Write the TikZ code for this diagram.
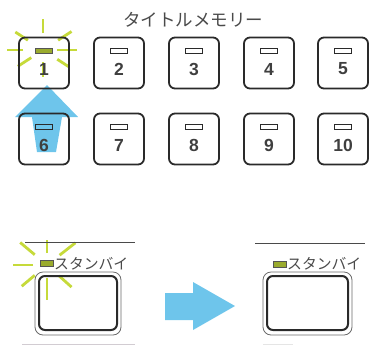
\documentclass[tikz,border=0pt]{standalone}
\usepackage{fontspec}
\usetikzlibrary{calc}
\setmainfont{Liberation Sans}
\newfontfamily\jp{Noto Sans CJK JP}
\definecolor{glow}{HTML}{C6DA3A}
\definecolor{ledon}{HTML}{9AAB2E}
\definecolor{arrowblue}{HTML}{6EC5EB}
\definecolor{ink}{HTML}{2A2A2A}
\definecolor{txt}{HTML}{4A4A4A}
\tikzset{
  keybtn/.style={draw=ink, line width=1.8pt, rounded corners=6pt, minimum width=50pt, minimum height=51pt, inner sep=0pt},
  ledoff/.style={draw=ink, line width=0.8pt, fill=none, minimum width=17pt, minimum height=5pt, inner sep=0pt},
  ledlit/.style={draw=ink!80, line width=0.8pt, fill=ledon, minimum width=13pt, minimum height=6pt, inner sep=0pt},
  numlabel/.style={font=\bfseries\fontsize{17.5pt}{17.5pt}\selectfont, text=ink!90, inner sep=0pt},
  ray/.style={draw=glow, line width=2.8pt},
  bluearrow/.style={fill=arrowblue, draw=none},
  outerbox/.style={draw=ink!70, line width=0.8pt, rounded corners=8pt},
  innerbox/.style={draw=ink, line width=2pt, rounded corners=6pt},
  rule/.style={draw=ink!85, line width=1pt},
  jptext/.style={font=\jp\fontsize{14.8pt}{14.8pt}\selectfont, text=txt, inner sep=0pt}
}
\begin{document}
\begin{tikzpicture}[x=1pt,y=-1pt]
\useasboundingbox (0,0) rectangle (369,346);

% title
\node[font=\jp\fontsize{17.5pt}{17.5pt}\selectfont, text=txt, inner sep=0pt] (title) at (193,20) {タイトルメモリー};

% glow rays around key 1
\coordinate (g1) at (43,50);
\foreach \a/\r/\R in {0/14/34, 33/18/34, 90/17/31, 147/18/33, 180/20/36, 213/14/30, 270/12/27, 327/17/31}
  \draw[ray] ($(g1)+(\a:\r pt)$) -- ($(g1)+(\a:\R pt)$);

% blue up arrow from 6 to 1
\path[bluearrow] (15,117) -- (47,85) -- (78,117) -- (62,117) -- (56,152) -- (37,152) -- (32,117) -- cycle;

% keys
\foreach \n/\x/\y in {1/44/63, 2/119/63, 3/194/63, 4/269/63, 5/343/63, 6/44/139, 7/119/139, 8/194/139, 9/269/139, 10/343/139} {
  \node[keybtn] (k\n) at (\x,\y) {};
  \node[numlabel] (n\n) at ($(k\n.center)+(0,6)$) {\n};
}
\foreach \n in {2,...,10}
  \node[ledoff] (l\n) at ($(k\n.center)+(0,-12.5)$) {};
\node[ledlit, minimum width=17pt, minimum height=5pt] (l1) at ($(k1.center)+(0,-12.5)$) {};

% ---- standby (left) ----
\coordinate (g2) at (47,265);
\foreach \a/\r/\R in {90/12/25, 140/16/35, 180/14/34, 220/16/33, 270/13/35, 318/16/33, 38/16/36}
  \draw[ray] ($(g2)+(\a:\r pt)$) -- ($(g2)+(\a:\R pt)$);
\coordinate (r1a) at (25,242);
\coordinate (r1b) at (135,242);
\draw[rule] (r1a) -- (r1b);
\node[ledlit] (s1led) at (46.5,263.5) {};
\node[jptext, anchor=west] (s1txt) at (54,264) {スタンバイ};
\draw[outerbox] (35,272) rectangle (121,335);
\draw[innerbox] (39,276) rectangle (117,330);
\coordinate (r3a) at (22,344);
\coordinate (r3b) at (135,344);
\draw[draw=violet!15!gray!35, line width=1pt] (r3a) -- (r3b);

% blue right arrow
\path[bluearrow] (165,293) -- (193,293) -- (193,282) -- (235,306) -- (193,330) -- (193,320) -- (165,320) -- cycle;

% ---- standby (right) ----
\coordinate (r2a) at (255,243);
\coordinate (r2b) at (365,243);
\draw[rule] (r2a) -- (r2b);
\node[ledlit] (s2led) at (279.5,264) {};
\node[jptext, anchor=west] (s2txt) at (287,264) {スタンバイ};
\draw[outerbox] (263,272) rectangle (352,335);
\draw[innerbox] (267,276) rectangle (348,330);
\coordinate (r4a) at (263,344);
\coordinate (r4b) at (293,344);
\draw[draw=gray!20, line width=1pt] (r4a) -- (r4b);
\end{tikzpicture}
\end{document}
